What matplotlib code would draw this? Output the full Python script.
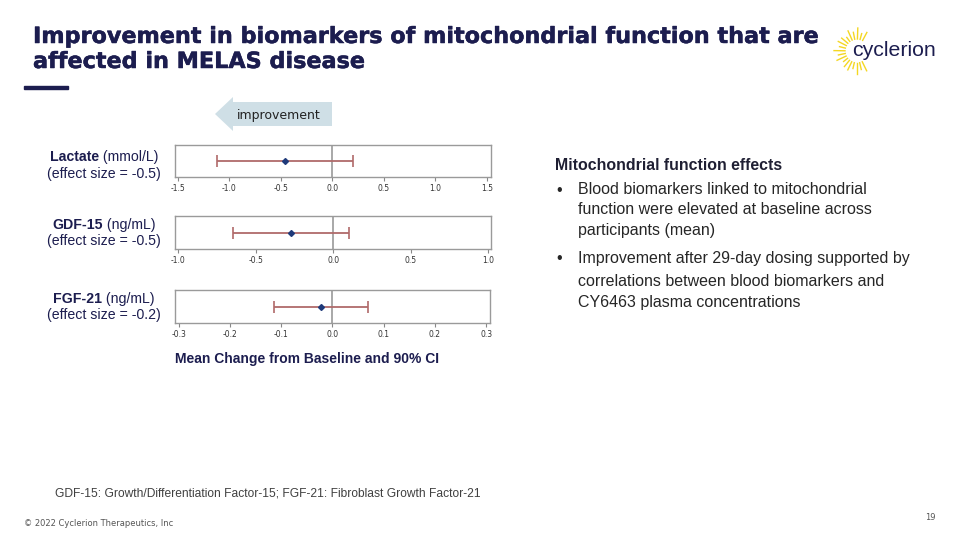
import numpy as np
import matplotlib
matplotlib.use("Agg")
import matplotlib.pyplot as plt
import matplotlib.patheffects as pe
from matplotlib.patches import Polygon, Rectangle

# --- DONNEES ---
markers = ["Lactate", "GDF-15", "FGF-21"]
units = ["(mmol/L)", "(ng/mL)", "(ng/mL)"]
effect_sizes = ["-0.5", "-0.5", "-0.2"]
means = [-0.46, -0.27, -0.023]
ci_low = [-1.12, -0.645, -0.114]
ci_high = [0.20, 0.103, 0.070]
x_ticks = [
    [-1.5, -1.0, -0.5, 0.0, 0.5, 1.0, 1.5],
    [-1.0, -0.5, 0.0, 0.5, 1.0],
    [-0.3, -0.2, -0.1, 0.0, 0.1, 0.2, 0.3],
]
x_limits = [(-1.527, 1.54), (-1.021, 1.017), (-0.307, 0.3075)]

title_lines = ["Improvement in biomarkers of mitochondrial function that are",
               "affected in MELAS disease"]
bullets = [
    ["Blood biomarkers linked to mitochondrial",
     "function were elevated at baseline across",
     "participants (mean)"],
    ["Improvement after 29-day dosing supported by",
     "correlations between blood biomarkers and",
     "CY6463 plasma concentrations"],
]

NAVY = "#1c1d4f"
W, H = 960, 540

plt.rcParams['font.family'] = ['Liberation Sans', 'DejaVu Sans']
fig = plt.figure(figsize=(W / 100, H / 100), dpi=100)
renderer = fig.canvas.get_renderer()


def fx(px):
    return px / W


def fy(py):
    return 1 - py / H


# --- TITRE (police large, ajustee a la largeur du modele) ---
thick = [pe.withStroke(linewidth=0.35, foreground=NAVY)]
t1 = fig.text(fx(33), fy(43), title_lines[0], fontsize=15, fontweight='bold',
              color=NAVY, va='baseline', ha='left', family='DejaVu Sans',
              path_effects=thick)
w1 = t1.get_window_extent(renderer).width
size = 15 * 788 / w1
t1.set_fontsize(size)
fig.text(fx(33), fy(68), title_lines[1], fontsize=size, fontweight='bold',
         color=NAVY, va='baseline', ha='left', family='DejaVu Sans',
         path_effects=thick)
fig.add_artist(Rectangle((fx(24), fy(89)), fx(44), 3 / H, color=NAVY,
                         transform=fig.transFigure))

# --- LOGO ---
cx, cy = 857, 51
angles = np.arange(62, 300, 13)
for k, ang in enumerate(angles):
    r0 = 12
    r1 = 17 + [4, 1, 6, 2, 5, 0, 3][k % 7]
    a = np.deg2rad(ang)
    fig.add_artist(plt.Line2D([fx(cx + r0 * np.cos(a)), fx(cx + r1 * np.cos(a))],
                              [fy(cy - r0 * np.sin(a)), fy(cy - r1 * np.sin(a))],
                              color='#f4d723', lw=1.0, transform=fig.transFigure))
fig.text(fx(852), fy(50), "cyclerion", fontsize=15.3, color=NAVY,
         va='center', ha='left')

# --- FLECHE "improvement" ---
arrow = Polygon([(fx(332), fy(102)), (fx(233), fy(102)), (fx(233), fy(97)),
                 (fx(215), fy(114)), (fx(233), fy(131)), (fx(233), fy(126)),
                 (fx(332), fy(126))], closed=True, facecolor='#cfdfe6',
                edgecolor='none', transform=fig.transFigure)
fig.add_artist(arrow)
fig.text(fx(279), fy(115), "improvement", fontsize=9, color='#222222',
         va='center', ha='center', family='DejaVu Sans')

# --- FOREST PLOTS ---
boxes = [(145, 177, 491), (216, 249, 491), (290, 323, 490)]
for i, (top, bot, right) in enumerate(boxes):
    ax = fig.add_axes([fx(175), fy(bot), fx(right - 175), (bot - top) / H])
    ax.axvline(0, color='#9a9a9a', lw=1.2, zorder=1)
    ax.errorbar([means[i]], [0],
                xerr=[[means[i] - ci_low[i]], [ci_high[i] - means[i]]],
                fmt='D', ms=3, mfc='#1f3a7a', mec='#1f3a7a',
                ecolor='#b06a6a', elinewidth=1.3, capsize=4, capthick=1.2,
                zorder=3)
    ax.set_xlim(*x_limits[i])
    ax.set_ylim(-1, 1)
    ax.set_yticks([])
    ax.set_xticks(x_ticks[i])
    ax.set_xticklabels([f"{t:.1f}" for t in x_ticks[i]])
    ax.tick_params(axis='x', length=3, width=0.8, color='#888888',
                   labelsize=5.5, labelcolor='#333333', pad=2)
    for lab in ax.get_xticklabels():
        lab.set_family('DejaVu Sans')
    for sp in ax.spines.values():
        sp.set_color('#9a9a9a')
        sp.set_linewidth(1.0)

fig.text(fx(175), fy(359), "Mean Change from Baseline and 90% CI",
         fontsize=10, fontweight='bold', color=NAVY, va='center', ha='left')

# --- LIBELLES A GAUCHE ---
label_rows = [(157, 174), (225, 241), (299, 315)]
for i, (y1, y2) in enumerate(label_rows):
    tb = fig.text(0, fy(y1), markers[i], fontsize=10.2, fontweight='bold',
                  color=NAVY, va='center', ha='left')
    tn = fig.text(0, fy(y1), " " + units[i], fontsize=10.2, color=NAVY,
                  va='center', ha='left')
    wb = tb.get_window_extent(renderer).width
    wn = tn.get_window_extent(renderer).width
    start = 104 - (wb + wn) / 2
    tb.set_x(fx(start))
    tn.set_x(fx(start + wb))
    fig.text(fx(104), fy(y2), f"(effect size = {effect_sizes[i]})",
             fontsize=10.2, color=NAVY, va='center', ha='center')

# --- TEXTE A DROITE ---
fig.text(fx(555), fy(166), "Mitochondrial function effects", fontsize=11.45,
         fontweight='bold', color='#1f1f33', va='center', ha='left')
bullet_y = [[190, 210, 230], [258, 281, 303]]
for lines, ys in zip(bullets, bullet_y):
    fig.text(fx(556), fy(ys[0]), "\u2022", fontsize=11.5, color='#262626',
             va='center', ha='left')
    for line, yy in zip(lines, ys):
        fig.text(fx(578), fy(yy), line, fontsize=11.55, color='#262626',
                 va='center', ha='left')

# --- BAS DE PAGE ---
fig.text(fx(55), fy(493), "GDF-15: Growth/Differentiation Factor-15; FGF-21: Fibroblast Growth Factor-21",
         fontsize=8.65, color='#404040', va='center', ha='left')
fig.text(fx(24), fy(524), "\u00a9 2022 Cyclerion Therapeutics, Inc",
         fontsize=6, color='#555555', va='center', ha='left', family='DejaVu Sans')
fig.text(fx(936), fy(518), "19", fontsize=6, color='#555555',
         va='center', ha='right', family='DejaVu Sans')

fig.savefig("out.png", dpi=100)
